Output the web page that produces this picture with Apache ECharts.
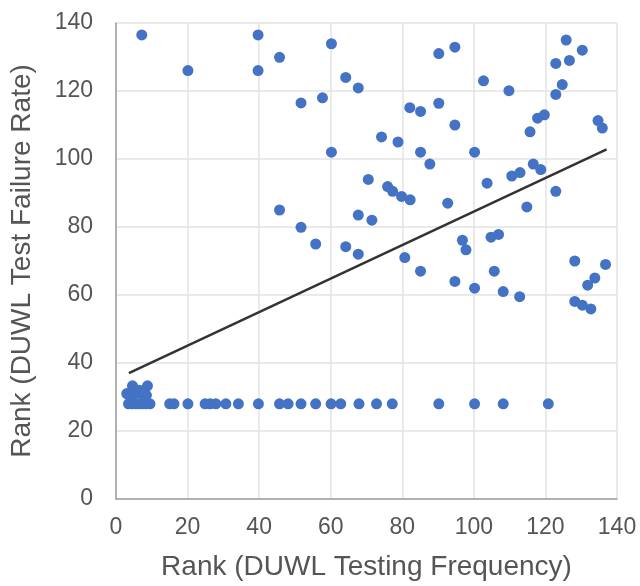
<!DOCTYPE html>
<html>
<head>
<meta charset="utf-8">
<title>DUWL rank scatter</title>
<script src="https://cdn.jsdelivr.net/npm/echarts@6/dist/echarts.min.js"></script>
<style>
  html, body { margin: 0; padding: 0; background: #fff; }
  #chart { width: 640px; height: 586px; }
</style>
</head>
<body>
<div id="chart"></div>
<script>
// rank by testing frequency (x) and rank by test failure rate (y)
var freqRank = [
  7.2, 20.1, 39.7, 39.7, 45.7, 60.2, 64.2, 67.7, 51.7, 57.7, 60.2, 70.5, 45.7, 51.7, 67.7, 71.5, 55.8, 64.2, 67.7,
  90.2, 94.7, 102.7, 109.8, 125.8, 122.9, 126.7, 130.3, 124.7, 122.9, 82.1, 85.1, 90.2, 94.7, 117.8, 119.7, 115.7,
  134.7, 135.9, 74.2, 78.8, 85.1, 87.7, 100.2, 75.9, 77.3, 79.8, 82.2, 92.7, 103.7, 110.6, 112.9, 116.6, 118.7,
  114.8, 122.9, 96.8, 97.8, 104.8, 106.9, 80.7, 85.1, 94.7, 100.2, 105.7, 108.2, 112.8, 128.2, 136.8, 133.8,
  131.8, 128.2, 130.3, 132.7,
  15, 16.2, 20.1, 24.9, 26.3, 27.9, 30.7, 34.2, 39.8, 45.7, 48.1, 51.7, 55.8, 60.1, 62.8, 67.9, 72.8, 77.2,
  90.2, 100.2, 108.2, 120.8,
  3.5, 4.5, 5.5, 6.5, 7.5, 8.5, 9.5, 3, 4.6, 8.8, 5.5, 7, 8.5, 6.5, 4
];
var failRank = [
  136.5, 126, 136.5, 126, 129.9, 133.9, 124, 120.9, 116.5, 118, 102, 94, 85, 79.9, 83.5, 82, 75, 74.2, 72,
  131, 132.9, 123, 120.1, 135, 128.1, 129, 132, 121.9, 119, 115.1, 114, 116.4, 110, 112, 113, 108,
  111.3, 109.1, 106.5, 105, 102, 98.5, 102, 91.9, 90.5, 89, 88, 87, 92.9, 95, 96, 98.5, 96.9,
  85.9, 90.5, 76.1, 73.3, 77, 77.8, 71, 67, 64, 62, 67, 61, 59.5, 70, 69, 65,
  62.9, 58.1, 57, 55.9,
  28, 28, 28, 28, 28, 28, 28, 28, 28, 28, 28, 28, 28, 28, 28, 28, 28, 28,
  28, 28, 28, 28,
  28, 28, 28, 28, 28, 28, 28, 31, 33.3, 33.3, 31, 31, 30.5, 32, 30
];
// linear trend line end points
var trendX = [3.6, 137.1];
var trendY = [37, 102.8];
var tickValues = [0, 20, 40, 60, 80, 100, 120, 140];

var points = freqRank.map(function (x, i) { return [x, failRank[i]]; });
var trend = trendX.map(function (x, i) { return [x, trendY[i]]; });

var chart = echarts.init(document.getElementById('chart'));
var labelStyle = { color: '#555555', fontSize: 23, fontFamily: 'Liberation Sans' };
var nameStyle = { color: '#555555', fontSize: 28, fontFamily: 'Liberation Sans' };

chart.setOption({
  animation: false,
  grid: { left: 116, right: 23, top: 23, bottom: 85 },
  xAxis: {
    type: 'value',
    min: tickValues[0],
    max: tickValues[tickValues.length - 1],
    interval: 20,
    name: 'Rank (DUWL Testing Frequency)',
    nameLocation: 'middle',
    nameGap: 54,
    nameTextStyle: nameStyle,
    axisLine: { show: true, lineStyle: { color: '#9e9e9e', width: 1.5 } },
    axisTick: { show: false },
    axisLabel: Object.assign({ margin: 17 }, labelStyle),
    splitLine: { show: true, lineStyle: { color: '#e3e3e3', width: 1.5 } }
  },
  yAxis: {
    type: 'value',
    min: tickValues[0],
    max: tickValues[tickValues.length - 1],
    interval: 20,
    name: 'Rank (DUWL Test Failure Rate)',
    nameLocation: 'middle',
    nameGap: 80,
    nameTextStyle: nameStyle,
    axisLine: { show: true, lineStyle: { color: '#9e9e9e', width: 1.5 } },
    axisTick: { show: false },
    axisLabel: Object.assign({ margin: 23 }, labelStyle),
    splitLine: { show: true, lineStyle: { color: '#e3e3e3', width: 1.5 } }
  },
  series: [
    {
      type: 'scatter',
      data: points,
      symbolSize: 11,
      itemStyle: { color: '#4472c4', opacity: 1 }
    },
    {
      type: 'line',
      data: trend,
      symbol: 'none',
      lineStyle: { color: '#333333', width: 2.5 },
      z: 3
    }
  ]
});
</script>
</body>
</html>
